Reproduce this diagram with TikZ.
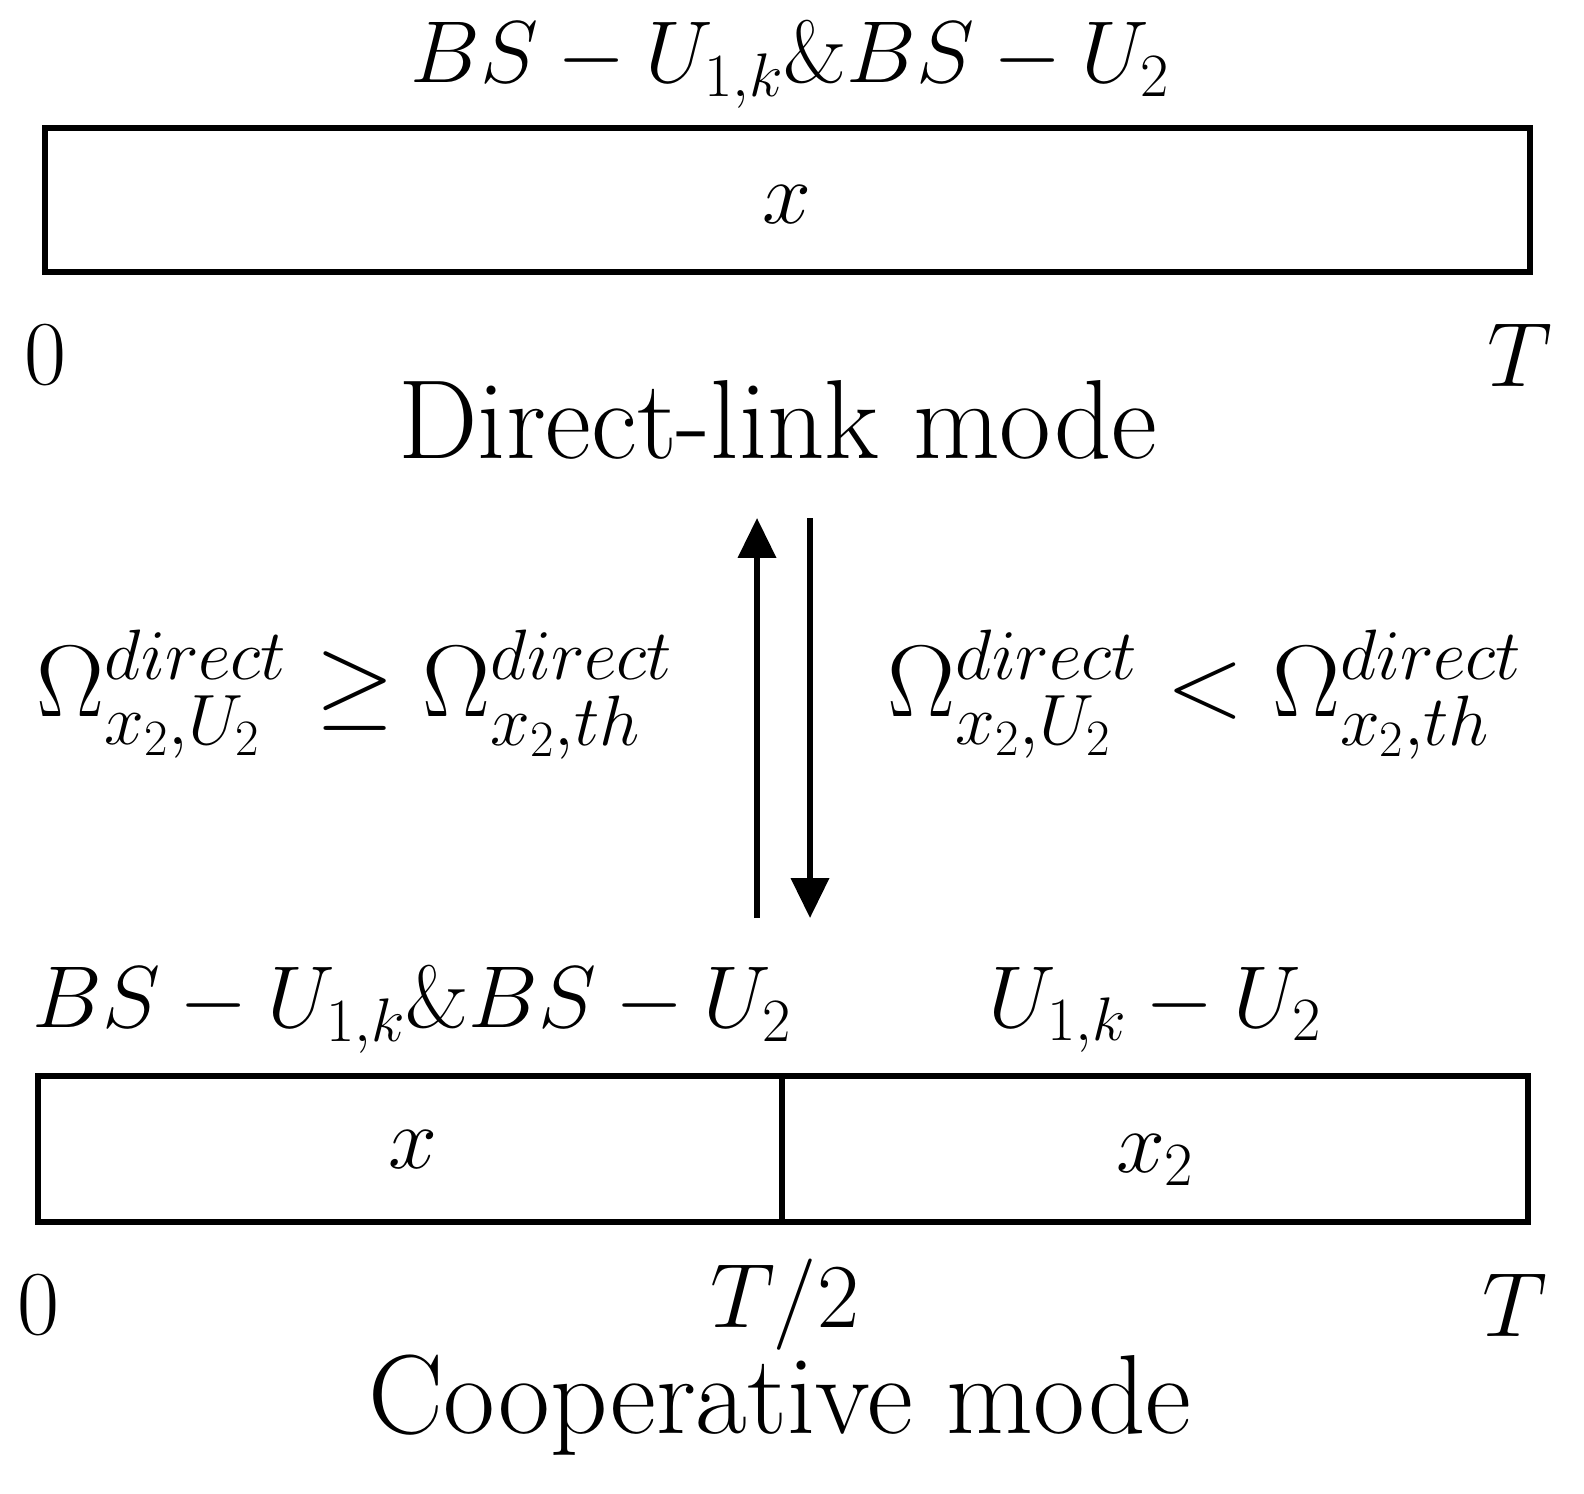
\documentclass[tikz,border=0pt]{standalone}
\usepackage{fix-cm}
\usepackage{amsmath,amssymb}
\usetikzlibrary{arrows.meta}
\begin{document}
\begin{tikzpicture}[x=0.02cm,y=-0.02cm,
  box/.style={draw,line width=0.11cm},
  lab/.style={inner sep=0pt,font=\fontsize{64}{70}\selectfont},
  num/.style={inner sep=0pt,font=\fontsize{52}{60}\selectfont},
  mlab/.style={inner sep=0pt,font=\fontsize{50}{58}\selectfont},
  olab/.style={inner sep=0pt,font=\fontsize{58}{66}\selectfont},
  arr/.style={line width=0.11cm,-{Triangle[length=0.8cm,width=0.75cm]}}]
\useasboundingbox (0,0) rectangle (1584,1493);
% top
\node[mlab] (t1) at (790,65) {$BS-U_{1,k}\&BS-U_2$};
\draw[box] (45,128) rectangle (1530,272);
\node[mlab] (tx) at (787,205) {$x$};
\node[num] (t0) at (45,355) {$0$};
\node[num] (tT) at (1520,355) {$T$};
\node[lab] (dm) at (778,420) {Direct-link mode};
% arrows
\coordinate (ua) at (757,918); \coordinate (ub) at (757,518);
\coordinate (da) at (810,518); \coordinate (db) at (810,918);
\draw[arr] (ua) -- (ub);
\draw[arr] (da) -- (db);
\node[olab] (cl) at (355,695) {$\Omega^{direct}_{x_2,U_2}\geq\Omega^{direct}_{x_2,th}$};
\node[olab] (cr) at (1205,695) {$\Omega^{direct}_{x_2,U_2}<\Omega^{direct}_{x_2,th}$};
% bottom
\node[mlab] (b1) at (412,1010) {$BS-U_{1,k}\&BS-U_2$};
\node[mlab] (b2) at (1155,1010) {$U_{1,k}-U_2$};
\draw[box] (38,1076) rectangle (1528,1222);
\draw[box] (782,1076) -- (782,1222);
\node[mlab] (bx) at (413,1150) {$x$};
\node[mlab] (bx2) at (1155,1160) {$x_2$};
\node[num] (b0) at (38,1305) {$0$};
\node[num] (bh) at (785,1305) {$T/2$};
\node[num] (bT) at (1515,1305) {$T$};
\node[lab] (cm) at (780,1405) {Cooperative mode};
\end{tikzpicture}
\end{document}
